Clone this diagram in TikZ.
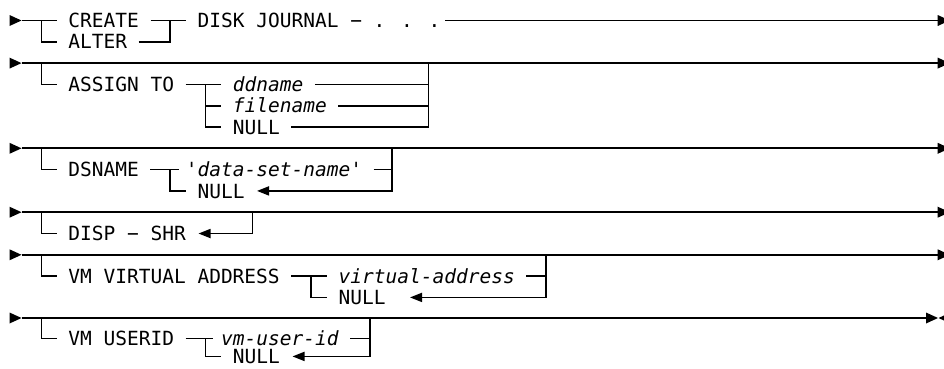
\documentclass[tikz,border=0pt]{standalone}
\usepackage{fontspec}
\newfontfamily\dgfont{DejaVu Sans Mono}
\usetikzlibrary{arrows.meta}
\tikzset{
  rail/.style={line width=1.7pt},
  back/.style={rail,-{Triangle[length=12pt,width=9pt]}},
  kw/.style={anchor=base west,inner sep=0pt,font=\dgfont\fontsize{19.5pt}{21pt}\selectfont},
  var/.style={kw,font=\dgfont\fontsize{19.5pt}{21pt}\selectfont\itshape},
  headR/.pic={\fill (0,-5.5) -- (12,0) -- (0,5.5) -- cycle;},
  headL/.pic={\fill (0,0) -- (12,-5.5) -- (12,5.5) -- cycle;},
}
\begin{document}
\begin{tikzpicture}[x=1pt,y=-1pt]
\useasboundingbox (0,0) rectangle (944,368);

% ---------- row 1 ----------
\coordinate (r1s) at (9.5,20.5);
\coordinate (r1a) at (21.5,20.5);
\coordinate (r1b) at (56.5,20.5);
\coordinate (r1j) at (41.5,20.5);
\coordinate (r1h) at (56.5,41.8);
\coordinate (r1c) at (150.5,20.5);
\coordinate (r1d) at (185.7,20.5);
\coordinate (r1e) at (138.7,41.8);
\coordinate (r1k) at (170,20.5);
\coordinate (r1f) at (445,20.5);
\coordinate (r1g) at (937.7,20.5);
\node[kw] (create) at (68.2,27.6) {CREATE};
\node[kw] (alter) at (68.2,48.9) {ALTER};
\node[kw] (disk) at (197.45,27.6) {DISK JOURNAL − . . .};
\pic at (r1s) {headR};
\draw[rail] (r1a) -- (r1b);
\draw[rail] (r1j) |- (r1h);
\draw[rail] (r1c) -- (r1d);
\draw[rail] (r1e) -| (r1k);
\draw[rail] (r1f) -- (r1g);
\pic at (r1g) {headR};

% ---------- row 2 ----------
\coordinate (r2s) at (9.5,63.1);
\coordinate (r2a) at (21.5,63.1);
\coordinate (r2g) at (937.7,63.1);
\coordinate (r2j) at (41.5,63.1);
\coordinate (r2h) at (56.5,84.4);
\coordinate (r2c) at (185.7,84.4);
\coordinate (r2d) at (220.95,84.4);
\coordinate (r2k) at (205.35,84.4);
\coordinate (r2km) at (205.35,105.7);
\coordinate (r2m) at (220.95,105.7);
\coordinate (r2n) at (220.95,127.0);
\coordinate (r2p) at (314.95,84.4);
\coordinate (r2q) at (428.6,84.4);
\coordinate (r2r) at (338.45,105.7);
\coordinate (r2t) at (428.6,105.7);
\coordinate (r2u) at (291.45,127.0);
\coordinate (r2v) at (428.6,63.1);
\node[kw] (assign) at (68.2,91.5) {ASSIGN TO};
\node[var] (ddname) at (232.7,91.5) {ddname};
\node[var] (filename) at (232.7,112.8) {filename};
\node[kw] (null2) at (232.7,134.1) {NULL};
\pic at (r2s) {headR};
\draw[rail] (r2a) -- (r2g);
\pic at (r2g) {headR};
\draw[rail] (r2j) |- (r2h);
\draw[rail] (r2c) -- (r2d);
\draw[rail] (r2k) |- (r2n);
\draw[rail] (r2km) -- (r2m);
\draw[rail] (r2p) -- (r2q);
\draw[rail] (r2r) -- (r2t);
\draw[rail] (r2u) -| (r2v);

% ---------- row 3 ----------
\coordinate (r3s) at (9.5,148.3);
\coordinate (r3a) at (21.5,148.3);
\coordinate (r3g) at (937.7,148.3);
\coordinate (r3j) at (41.5,148.3);
\coordinate (r3h) at (56.5,169.6);
\coordinate (r3c) at (150.45,169.6);
\coordinate (r3d) at (179,169.6);
\coordinate (r3k) at (170.1,169.6);
\coordinate (r3n) at (185.7,190.9);
\coordinate (r3p) at (373.7,169.6);
\coordinate (r3q) at (392,169.6);
\coordinate (r3v) at (392,148.3);
\coordinate (r3t) at (257,190.9);
\node[kw] (dsname) at (68.2,176.7) {DSNAME};
\node[kw] (dsn) at (185.7,176.7) {'\textit{data-set-name}'};
\node[kw] (null3) at (197.45,198.0) {NULL};
\pic at (r3s) {headR};
\draw[rail] (r3a) -- (r3g);
\pic at (r3g) {headR};
\draw[rail] (r3j) |- (r3h);
\draw[rail] (r3c) -- (r3d);
\draw[rail] (r3k) |- (r3n);
\draw[rail] (r3p) -- (r3q);
\draw[back] (r3v) |- (r3t);

% ---------- row 4 ----------
\coordinate (r4s) at (9.5,212.2);
\coordinate (r4a) at (21.5,212.2);
\coordinate (r4g) at (937.7,212.2);
\coordinate (r4j) at (41.5,212.2);
\coordinate (r4h) at (56.5,233.5);
\coordinate (r4v) at (252.35,212.2);
\coordinate (r4t) at (198.5,233.5);
\node[kw] (disp) at (68.2,240.6) {DISP − SHR};
\pic at (r4s) {headR};
\draw[rail] (r4a) -- (r4g);
\pic at (r4g) {headR};
\draw[rail] (r4j) |- (r4h);
\draw[back] (r4v) |- (r4t);

% ---------- row 5 ----------
\coordinate (r5s) at (9.5,254.8);
\coordinate (r5a) at (21.5,254.8);
\coordinate (r5g) at (937.7,254.8);
\coordinate (r5j) at (41.5,254.8);
\coordinate (r5h) at (56.5,276.1);
\coordinate (r5c) at (291.45,276.1);
\coordinate (r5d) at (326.7,276.1);
\coordinate (r5k) at (311.1,276.1);
\coordinate (r5n) at (326.7,297.4);
\coordinate (r5p) at (526.45,276.1);
\coordinate (r5q) at (546.1,276.1);
\coordinate (r5v) at (546.1,254.8);
\coordinate (r5t) at (410,297.4);
\node[kw] (vmva) at (68.2,283.2) {VM VIRTUAL ADDRESS};
\node[var] (vaddr) at (338.45,283.2) {virtual-address};
\node[kw] (null5) at (338.45,304.5) {NULL};
\pic at (r5s) {headR};
\draw[rail] (r5a) -- (r5g);
\pic at (r5g) {headR};
\draw[rail] (r5j) |- (r5h);
\draw[rail] (r5c) -- (r5d);
\draw[rail] (r5k) |- (r5n);
\draw[rail] (r5p) -- (r5q);
\draw[back] (r5v) |- (r5t);

% ---------- row 6 ----------
\coordinate (r6s) at (9.5,318.0);
\coordinate (r6a) at (21.5,318.0);
\coordinate (r6g) at (926,318.0);
\coordinate (r6e) at (938.5,318.0);
\coordinate (r6j) at (41.5,318.0);
\coordinate (r6h) at (56.5,338.4);
\coordinate (r6c) at (185.7,338.4);
\coordinate (r6d) at (213,338.4);
\coordinate (r6k) at (205.35,338.4);
\coordinate (r6n) at (220.95,356.4);
\coordinate (r6p) at (350.2,338.4);
\coordinate (r6q) at (369.85,338.4);
\coordinate (r6v) at (369.85,318.0);
\coordinate (r6t) at (292.5,356.4);
\node[kw] (vmuid) at (68.2,345.5) {VM USERID};
\node[var] (vmuser) at (220.95,345.5) {vm-user-id};
\node[kw] (null6) at (232.7,363.4) {NULL};
\pic at (r6s) {headR};
\draw[rail] (r6a) -- (r6g);
\pic at (r6g) {headR};
\pic at (r6e) {headL};
\draw[rail] (r6j) |- (r6h);
\draw[rail] (r6c) -- (r6d);
\draw[rail] (r6k) |- (r6n);
\draw[rail] (r6p) -- (r6q);
\draw[back] (r6v) |- (r6t);
\end{tikzpicture}
\end{document}
